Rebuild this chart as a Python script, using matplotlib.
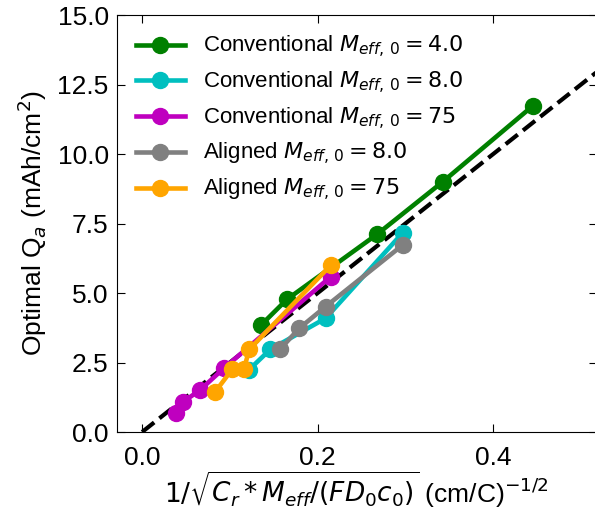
import numpy as np
import matplotlib
matplotlib.use('Agg')
import matplotlib.pyplot as plt

plt.rcParams['font.family'] = ['Liberation Sans', 'DejaVu Sans']
plt.rcParams['font.size'] = 19

# Conventional M_eff,0 = 4.0
x_conv4 = [0.1356, 0.165, 0.268, 0.3425, 0.445]
y_conv4 = [3.85, 4.77, 7.12, 9.0, 11.73]
# Conventional M_eff,0 = 8.0
x_conv8 = [0.1215, 0.146, 0.209, 0.297]
y_conv8 = [2.23, 2.97, 4.09, 7.17]
# Conventional M_eff,0 = 75
x_conv75 = [0.0389, 0.047, 0.066, 0.093, 0.215]
y_conv75 = [0.69, 1.09, 1.51, 2.29, 5.59]
# Aligned M_eff,0 = 8.0
x_al8 = [0.157, 0.179, 0.209, 0.297]
y_al8 = [2.97, 3.73, 4.51, 6.73]
# Aligned M_eff,0 = 75
x_al75 = [0.0834, 0.1025, 0.116, 0.122, 0.215]
y_al75 = [1.45, 2.25, 2.25, 2.97, 6.0]

# reference line
x_ref = [0.0, 0.52]
slope_ref = 25.0

fig = plt.figure(figsize=(5.95, 5.21), dpi=100)
ax = fig.add_axes([0.1966, 0.1708, 0.806, 0.8004])

xr = np.array(x_ref)
ax.plot(xr, slope_ref * xr, '--', color='black', lw=3, zorder=1)

style = dict(marker='o', markersize=11.5, lw=3.3)
ax.plot(x_conv4, y_conv4, color='green', label=r'Conventional $M_{eff,\,0}=4.0$', **style)
ax.plot(x_conv8, y_conv8, color='c', label=r'Conventional $M_{eff,\,0}=8.0$', **style)
ax.plot(x_conv75, y_conv75, color='m', label=r'Conventional $M_{eff,\,0}=75$', **style)
ax.plot(x_al8, y_al8, color='gray', label=r'Aligned $M_{eff,\,0}=8.0$', **style)
ax.plot(x_al75, y_al75, color='orange', label=r'Aligned $M_{eff,\,0}=75$', **style)

ax.set_xlim(-0.0286, 0.5177)
ax.set_ylim(0, 15)
ax.set_xticks([0.0, 0.2, 0.4])
ax.set_yticks([0, 2.5, 5, 7.5, 10, 12.5, 15])
ax.tick_params(direction='in', top=True, right=True, length=6, labelsize=19)
ax.tick_params(axis='y', pad=6)
ax.tick_params(axis='x', pad=10)

ax.set_xlabel(r'$1/\sqrt{C_r * M_{eff}/(FD_0c_0)}$ (cm/C)$^{-1/2}$', fontsize=19, labelpad=0)
ax.set_ylabel(r'Optimal Q$_a$ (mAh/cm$^2$)', fontsize=19, labelpad=6)

ax.legend(loc='upper left', frameon=False, fontsize=16, handlelength=2.2,
          handletextpad=0.8, labelspacing=0.43, borderaxespad=0.45)

fig.savefig('out.png', dpi=100)
